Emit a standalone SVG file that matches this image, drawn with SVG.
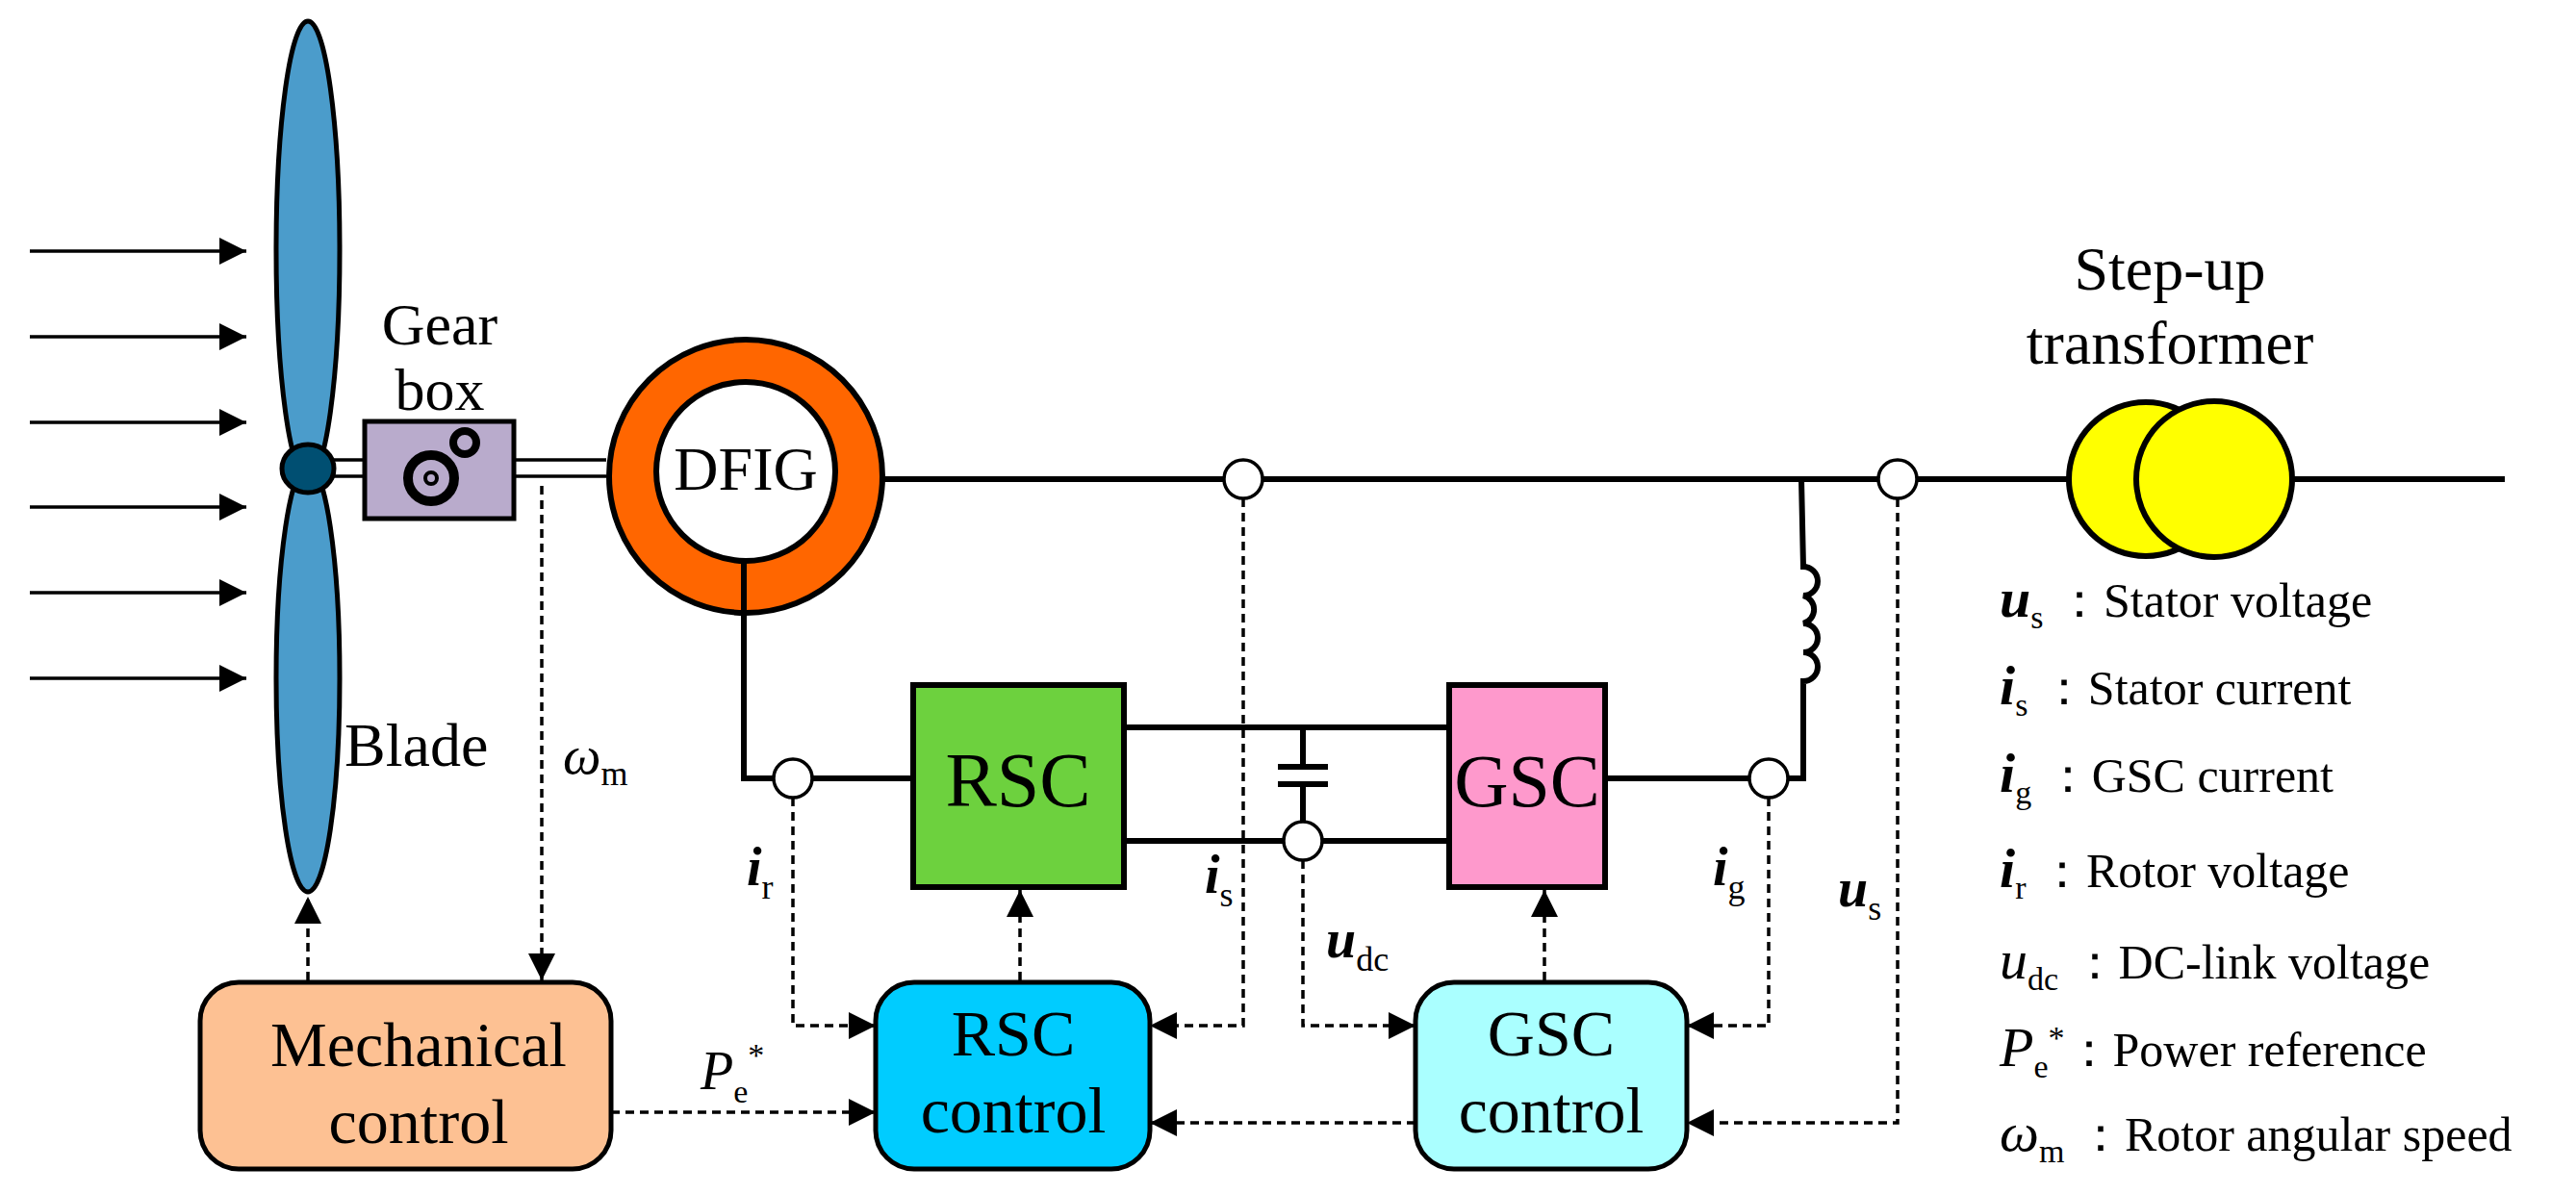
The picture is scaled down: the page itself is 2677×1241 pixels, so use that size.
<svg xmlns="http://www.w3.org/2000/svg" width="2677" height="1241" viewBox="0 0 2677 1241">
<style>
.ln{stroke:#000;stroke-width:6;fill:none}
.dash{stroke:#000;stroke-width:3.5;fill:none;stroke-dasharray:9 6}
.thin{stroke:#000;stroke-width:3.5;fill:none}
.t{font-family:"Liberation Serif",serif;fill:#000}
.b{font-weight:bold;font-style:italic}
.sens{fill:#fff;stroke:#000;stroke-width:3.5}
</style>
<defs>
<marker id="ad" viewBox="0 0 10 10" refX="10" refY="5" markerWidth="8" markerHeight="8" orient="auto" markerUnits="strokeWidth">
<path d="M0,0 L10,5 L0,10 z" fill="#000"/></marker>
</defs>
<g id="wind">
<g class="thin" marker-end="url(#ad)">
<line x1="31" y1="261" x2="256" y2="261"/><line x1="31" y1="350" x2="256" y2="350"/>
<line x1="31" y1="439" x2="256" y2="439"/><line x1="31" y1="527" x2="256" y2="527"/>
<line x1="31" y1="616" x2="256" y2="616"/><line x1="31" y1="705" x2="256" y2="705"/>
</g></g>
<g id="blade">
<ellipse cx="320" cy="260" rx="33" ry="238" fill="#4b9ccb" stroke="#000" stroke-width="5"/>
<ellipse cx="320" cy="705" rx="33" ry="222" fill="#4b9ccb" stroke="#000" stroke-width="5"/>
<ellipse cx="320" cy="487" rx="27" ry="25" fill="#004f72" stroke="#000" stroke-width="5"/>
<text class="t" x="358" y="796" font-size="64">Blade</text>
</g>
<g id="shafts" class="thin">
<line x1="345" y1="478" x2="379" y2="478"/><line x1="345" y1="495" x2="379" y2="495"/>
<line x1="534" y1="478" x2="630" y2="478"/><line x1="534" y1="495" x2="630" y2="495"/>
</g>
<g id="gearbox">
<rect x="379" y="438" width="155" height="101" fill="#b9abcc" stroke="#000" stroke-width="5"/>
<circle cx="448" cy="497" r="24" fill="none" stroke="#000" stroke-width="10"/>
<circle cx="448" cy="497" r="6" fill="none" stroke="#000" stroke-width="4"/>
<circle cx="483" cy="460" r="12" fill="none" stroke="#000" stroke-width="8"/>
<text class="t" x="457" y="358" font-size="62" text-anchor="middle">Gear</text>
<text class="t" x="457" y="426" font-size="62" text-anchor="middle">box</text>
</g>
<g id="dfig">
<circle cx="775" cy="495" r="142" fill="#ff6600" stroke="#000" stroke-width="6"/>
<circle cx="775" cy="490" r="93" fill="#fff" stroke="#000" stroke-width="6"/>
<text class="t" x="775" y="509" font-size="64" text-anchor="middle">DFIG</text>
</g>
<g id="connectors">
<path class="ln" d="M918,498 H2603"/>
<path class="ln" d="M773,583 V809 H949"/>
<path class="ln" d="M1168,756 H1506 M1168,874 H1506"/>
<path class="ln" d="M1354,756 V797 M1328,797 H1380 M1328,815 H1380 M1354,815 V874"/>
<path class="ln" d="M1668,809 H1874 V708 A15,15 0 0 0 1874,678 A15,15 0 0 0 1874,648 A15,15 0 0 0 1874,619 A15,15 0 0 0 1874,589 L1872,498"/>
<circle class="sens" cx="824" cy="809" r="20"/>
<circle class="sens" cx="1292" cy="498" r="20"/>
<circle class="sens" cx="1972" cy="498" r="20"/>
<circle class="sens" cx="1354" cy="874" r="20"/>
<circle class="sens" cx="1838" cy="809" r="20"/>
<g class="dash" marker-end="url(#ad)">
<path d="M320,1019 V932"/>
<path d="M563,505 V1019"/>
<path d="M1060,1019 V925"/>
<path d="M1605,1019 V925"/>
<path d="M824,829 V1066 H910"/>
<path d="M1292,518 V1066 H1195"/>
<path d="M1354,894 V1066 H1471"/>
<path d="M1838,829 V1066 H1753"/>
<path d="M1972,518 V1167 H1753"/>
<path d="M1471,1167 H1195"/>
<path d="M635,1156 H910"/>
</g>
</g>
<g id="rsc"><rect x="949" y="712" width="219" height="210" fill="#6dd13e" stroke="#000" stroke-width="6"/>
<text class="t" x="1058" y="838" font-size="80" text-anchor="middle">RSC</text></g>
<g id="gsc"><rect x="1506" y="712" width="162" height="210" fill="#fe99cc" stroke="#000" stroke-width="6"/>
<text class="t" x="1587" y="838" font-size="78" text-anchor="middle">GSC</text></g>
<g id="transformer">
<circle cx="2230" cy="498" r="80" fill="#ffff00" stroke="#000" stroke-width="6"/>
<circle cx="2301" cy="498" r="81" fill="#ffff00" stroke="#000" stroke-width="6"/>
<text class="t" x="2255" y="301" font-size="64" text-anchor="middle">Step-up</text>
<text class="t" x="2255" y="378" font-size="64" text-anchor="middle">transformer</text>
</g>
<g id="mech"><rect x="208" y="1021" width="427" height="194" rx="40" fill="#fdc193" stroke="#000" stroke-width="5"/>
<text class="t" x="435" y="1108" font-size="66" text-anchor="middle">Mechanical</text>
<text class="t" x="435" y="1188" font-size="66" text-anchor="middle">control</text></g>
<g id="rscc"><rect x="910" y="1021" width="285" height="194" rx="40" fill="#00ccff" stroke="#000" stroke-width="5"/>
<text class="t" x="1053" y="1097" font-size="68" text-anchor="middle">RSC</text>
<text class="t" x="1053" y="1177" font-size="68" text-anchor="middle">control</text></g>
<g id="gscc"><rect x="1471" y="1021" width="282" height="194" rx="40" fill="#aaffff" stroke="#000" stroke-width="5"/>
<text class="t" x="1612" y="1097" font-size="68" text-anchor="middle">GSC</text>
<text class="t" x="1612" y="1177" font-size="68" text-anchor="middle">control</text></g>
<g id="labels" class="t" font-size="56">
<text x="585" y="804"><tspan font-style="italic">ω</tspan><tspan font-size="36" dy="12">m</tspan></text>
<text x="776" y="920" class="b">i<tspan font-size="36" dy="14" font-weight="normal" font-style="normal">r</tspan></text>
<text x="1252" y="928" class="b">i<tspan font-size="36" dy="14" font-weight="normal" font-style="normal">s</tspan></text>
<text x="1378" y="995" class="b">u<tspan font-size="36" dy="14" font-weight="normal" font-style="normal">dc</tspan></text>
<text x="1780" y="920" class="b">i<tspan font-size="36" dy="14" font-weight="normal" font-style="normal">g</tspan></text>
<text x="1910" y="942" class="b">u<tspan font-size="36" dy="14" font-weight="normal" font-style="normal">s</tspan></text>
<text x="728" y="1132" font-style="italic">P<tspan font-size="34" dy="14" font-style="normal">e</tspan><tspan font-size="34" dy="-38" font-style="normal">*</tspan></text>
</g>
<g id="legend" class="t" font-size="50">
<text x="2078" y="641"><tspan class="b" font-size="58">u</tspan><tspan font-size="34" dy="12">s</tspan><tspan dy="-12"> ：Stator voltage</tspan></text>
<text x="2078" y="732"><tspan class="b" font-size="58">i</tspan><tspan font-size="34" dy="12">s</tspan><tspan dy="-12"> ：Stator current</tspan></text>
<text x="2078" y="823"><tspan class="b" font-size="58">i</tspan><tspan font-size="34" dy="12">g</tspan><tspan dy="-12"> ：GSC current</tspan></text>
<text x="2078" y="922"><tspan class="b" font-size="58">i</tspan><tspan font-size="34" dy="12">r</tspan><tspan dy="-12"> ：Rotor voltage</tspan></text>
<text x="2078" y="1017"><tspan font-style="italic" font-size="58">u</tspan><tspan font-size="34" dy="12">dc</tspan><tspan dy="-12"> ：DC-link voltage</tspan></text>
<text x="2078" y="1108"><tspan font-style="italic" font-size="58">P</tspan><tspan font-size="34" dy="12">e</tspan><tspan font-size="34" dy="-30">*</tspan><tspan dy="18">：Power reference</tspan></text>
<text x="2078" y="1196"><tspan font-style="italic" font-size="58">ω</tspan><tspan font-size="34" dy="12">m</tspan><tspan dy="-12"> ：Rotor angular speed</tspan></text>
</g>
</svg>
